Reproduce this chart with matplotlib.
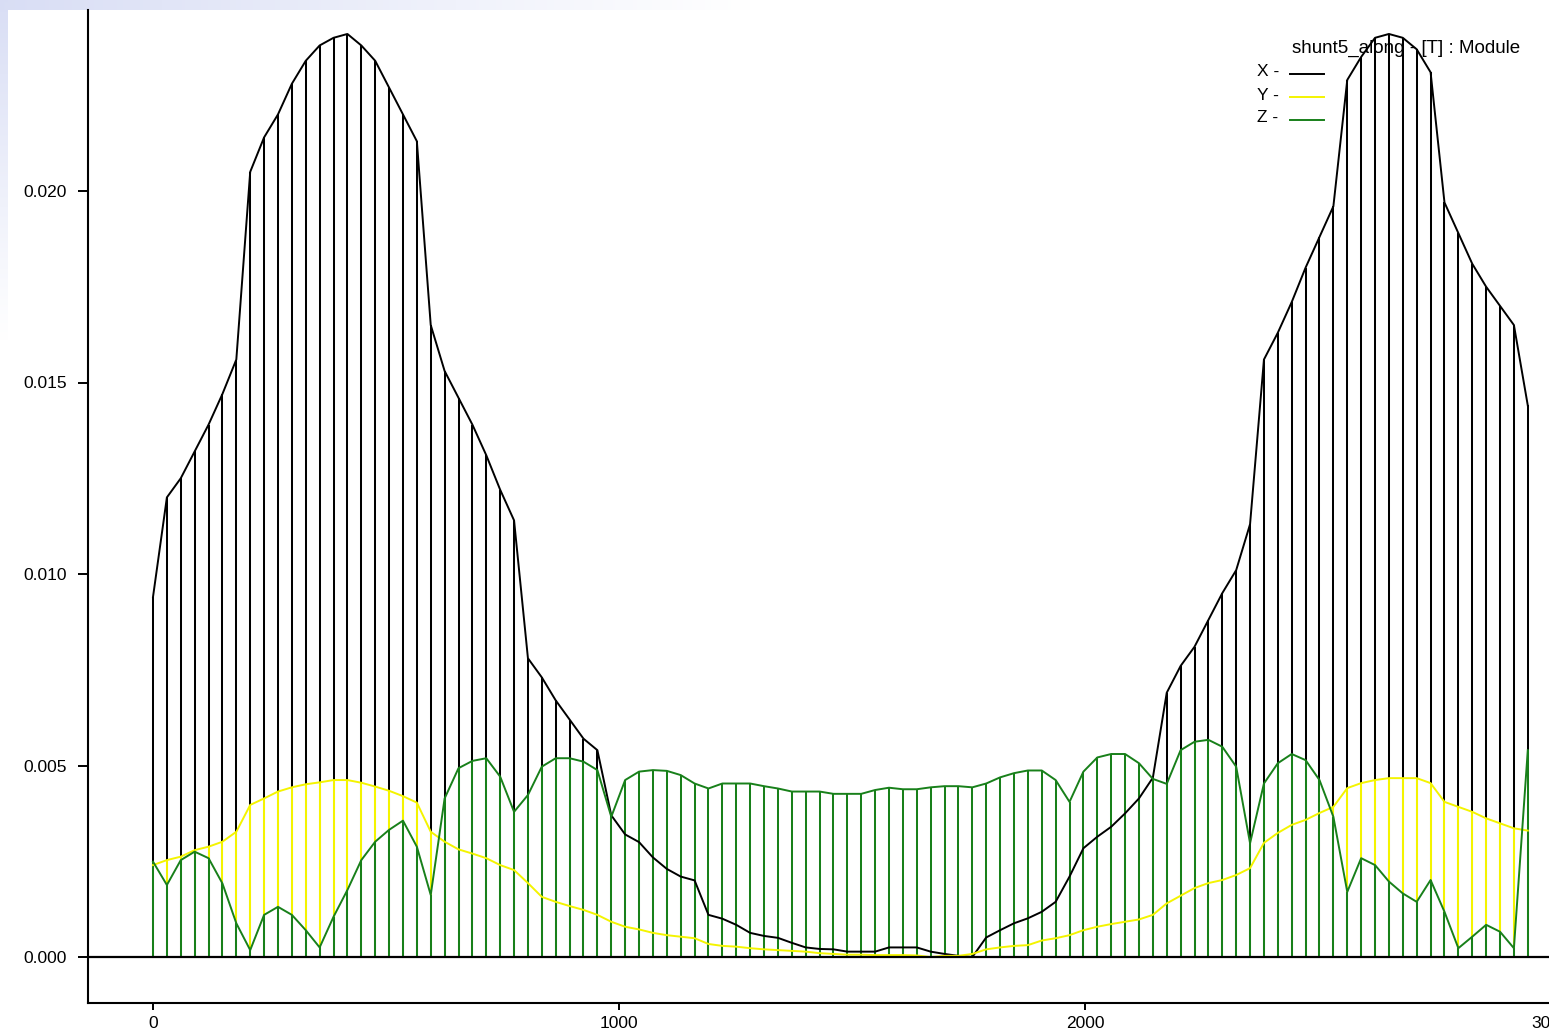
import numpy as np
import matplotlib
matplotlib.use("Agg")
from matplotlib import pyplot as plt
from matplotlib.lines import Line2D

# sample stations along the shunt, equal spacing
n_pts = 100
step = 29.8
station = np.arange(n_pts) * step

# field module components [T]
bx = [0.0094, 0.0120, 0.0125, 0.0132, 0.0139, 0.0147, 0.0156, 0.0205, 0.0214, 0.0220,
      0.0228, 0.0234, 0.0238, 0.0240, 0.0241, 0.0238, 0.0234, 0.0227, 0.0220, 0.0213,
      0.0165, 0.0153, 0.0146, 0.0139, 0.0131, 0.0122, 0.0114, 0.0078, 0.0073, 0.0067,
      0.0062, 0.0057, 0.0054, 0.0037, 0.0032, 0.0030, 0.0026, 0.0023, 0.0021, 0.0020,
      0.0011, 0.0010, 0.00084, 0.00063, 0.00055, 0.00050, 0.00037, 0.00025, 0.00021, 0.00020,
      0.00014, 0.00014, 0.00014, 0.00025, 0.00025, 0.00025, 0.00014, 0.00008, 0.00003, 0.0,
      0.00051, 0.00070, 0.00088, 0.00101, 0.00118, 0.00144, 0.0021, 0.00284, 0.00314, 0.0034,
      0.00375, 0.00414, 0.00468, 0.0069, 0.0076, 0.0081, 0.0088, 0.0095, 0.0101, 0.0113,
      0.0156, 0.0163, 0.0171, 0.0180, 0.0188, 0.0196, 0.0229, 0.0235, 0.0240, 0.0241,
      0.0240, 0.0237, 0.0231, 0.0197, 0.0189, 0.0181, 0.0175, 0.0170, 0.0165, 0.0144]

by = [0.0024, 0.00253, 0.00262, 0.00279, 0.00288, 0.00301, 0.00327, 0.00397, 0.00414, 0.00432,
      0.00443, 0.00451, 0.00456, 0.00462, 0.00462, 0.00455, 0.00445, 0.00434, 0.0042, 0.00403,
      0.00327, 0.00301, 0.00281, 0.0027, 0.00258, 0.0024, 0.00227, 0.00193, 0.00157, 0.00144,
      0.00133, 0.00123, 0.0011, 0.00092, 0.00079, 0.00072, 0.00063, 0.00057, 0.00053, 0.00049,
      0.00034, 0.00029, 0.00027, 0.00023, 0.0002, 0.00018, 0.00016, 0.00014, 0.0001, 0.00008,
      0.00006, 0.00006, 0.00005, 0.00005, 0.00005, 0.00004, 0.0, 0.00003, 0.00003, 0.00008,
      0.0002, 0.00025, 0.00029, 0.00031, 0.00043, 0.00049, 0.00057, 0.0007, 0.00079, 0.00086,
      0.00092, 0.00098, 0.0011, 0.0014, 0.0016, 0.0018, 0.00193, 0.00201, 0.00214, 0.00232,
      0.00298, 0.00324, 0.00345, 0.00358, 0.00376, 0.00392, 0.00441, 0.00454, 0.00462, 0.00467,
      0.00467, 0.00467, 0.00454, 0.00405, 0.00392, 0.00379, 0.00362, 0.00349, 0.00336, 0.0033]

bz = [0.00249, 0.00188, 0.00253, 0.00275, 0.00258, 0.00192, 0.00088, 0.00018, 0.0011, 0.00131,
      0.0011, 0.0007, 0.00025, 0.00105, 0.00175, 0.00253, 0.00301, 0.00332, 0.00356, 0.00288,
      0.00162, 0.00414, 0.00493, 0.00512, 0.00519, 0.00471, 0.00379, 0.00423, 0.00497, 0.00519,
      0.00519, 0.0051, 0.00488, 0.00366, 0.00462, 0.00484, 0.00488, 0.00486, 0.00475, 0.00453,
      0.0044, 0.00453, 0.00453, 0.00453, 0.00446, 0.0044, 0.00432, 0.00432, 0.00432, 0.00426,
      0.00426, 0.00426, 0.00436, 0.00442, 0.00438, 0.00438, 0.00443, 0.00446, 0.00446, 0.00443,
      0.00453, 0.00469, 0.0048, 0.00487, 0.00487, 0.00462, 0.00405, 0.00484, 0.00521, 0.0053,
      0.0053, 0.00506, 0.00465, 0.00452, 0.0054, 0.00562, 0.00567, 0.00549, 0.00497, 0.00297,
      0.00453, 0.00506, 0.0053, 0.00514, 0.00462, 0.00366, 0.0017, 0.00258, 0.0024, 0.00197,
      0.00166, 0.00144, 0.00201, 0.00118, 0.00023, 0.00053, 0.00084, 0.00066, 0.00023, 0.0054]

names = ['X', 'Y', 'Z']
colors = ['#000000', '#f4f400', '#18801a']
title = 'shunt5_along - [T] : Module'

yticks = [0.000, 0.005, 0.010, 0.015, 0.020]
xticks = [0, 1000, 2000, 3000]

W, H = 1549, 1033
plt.rcParams['font.family'] = ['Liberation Sans', 'DejaVu Sans']
fig = plt.figure(figsize=(W / 100, H / 100), dpi=100)
fig.patch.set_facecolor('white')

# bluish window background peeking in at the top left corner
bg = fig.add_axes([0, 0, 1, 1], zorder=-5)
bg.axis('off')
yy, xx = np.mgrid[0:H, 0:W].astype(np.float32)
top = np.where(yy < 10, np.clip(1 - xx / 750, 0, 1), 0)
side = np.where(xx < 8, np.clip(1 - yy / 340, 0, 1), 0)
a = np.maximum(top, side)[..., None] * 0.5
tint = np.array([0.70, 0.74, 0.92], dtype=np.float32)
img = (1 - a) + a * tint
bg.imshow(img, extent=[0, W, H, 0], aspect='auto', interpolation='bilinear')
bg.set_xlim(0, W)
bg.set_ylim(H, 0)

def px(x, y):
    return x / W, 1 - y / H

# plot box in pixels: left spine 88, bottom 1003, top 10, runs past right edge
left, bottom, top_px, right = 88, 1003, 10, 1600
ax = fig.add_axes([left / W, 1 - bottom / H, (right - left) / W, (bottom - top_px) / H])
ax.set_facecolor('none')

x_per_px = 1000 / 466.0
y_per_px = 0.005 / 191.5
ax.set_xlim(-(153 - left) * x_per_px, (right - 153) * x_per_px)
ax.set_ylim(-(bottom - 957) * y_per_px, (957 - top_px) * y_per_px)

series = [bx, by, bz]
for vals, c in zip(series, colors):
    ax.vlines(station, 0, vals, colors=c, lw=1.45, zorder=2)
for vals, c in zip(series, colors):
    ax.plot(station, vals, color=c, lw=1.4, zorder=3)

ax.axhline(0, color='black', lw=1.6, zorder=4)

for s in ['top', 'right']:
    ax.spines[s].set_visible(False)
for s in ['left', 'bottom']:
    ax.spines[s].set_linewidth(1.5)

ax.set_yticks(yticks)
ax.set_yticklabels(['%.3f' % v for v in yticks])
ax.set_xticks(xticks)
ax.set_xticklabels([str(v) for v in xticks])
ax.tick_params(axis='y', length=7, width=1.4, pad=8, labelsize=12.5)
ax.tick_params(axis='x', length=5, width=1.4, pad=4, labelsize=12.5)

# legend block, sits under the curves
ax.text(*px(1292, 48), title, transform=fig.transFigure, fontsize=13.5,
        va='center', ha='left', zorder=1, clip_on=False)
rows = [72, 95, 118]
for name, c, yr in zip(names, colors, rows):
    ax.text(*px(1257, yr), name + ' -', transform=fig.transFigure, fontsize=12.5,
            va='center', ha='left', zorder=1, clip_on=False)
    ln = Line2D([1290 / W, 1324 / W], [1 - (yr + 2) / H] * 2, transform=fig.transFigure,
                color=c, lw=1.4, zorder=1)
    ln.set_clip_on(False)
    ax.add_artist(ln)

fig.savefig('out.png', dpi=100)
